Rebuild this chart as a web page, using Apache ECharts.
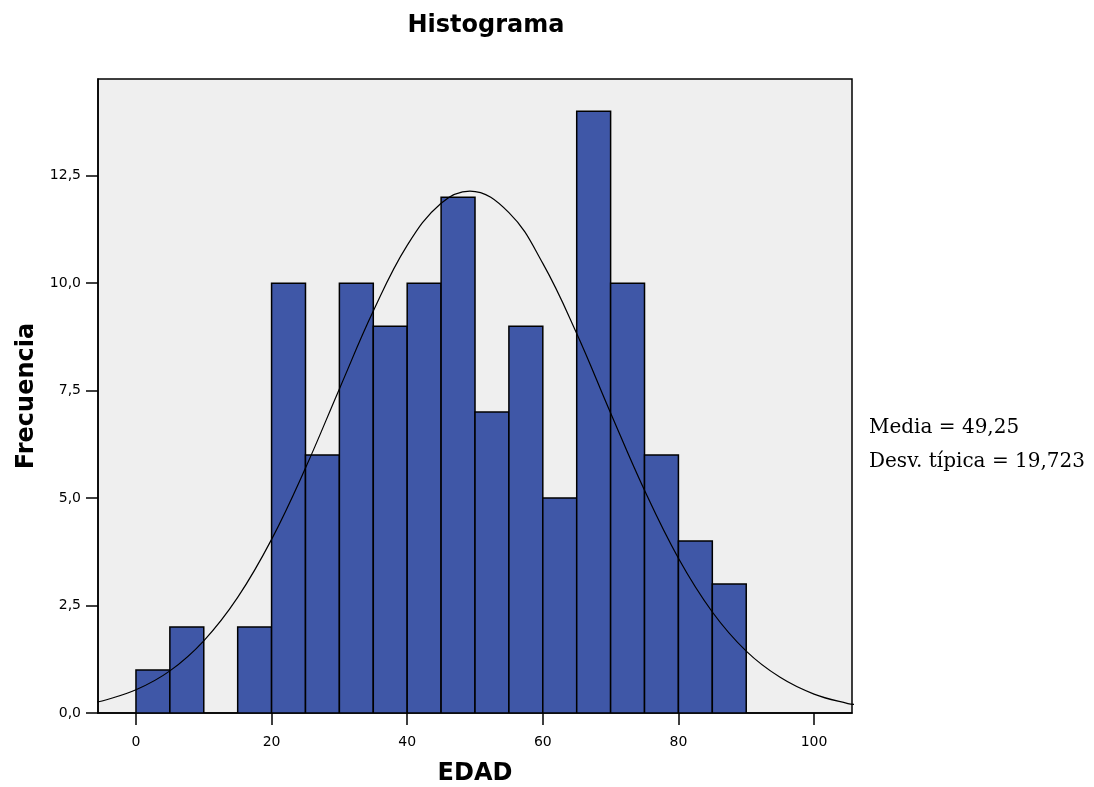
<!DOCTYPE html>
<html>
<head>
<meta charset="utf-8">
<script src="https://cdn.jsdelivr.net/npm/echarts@6/dist/echarts.min.js"></script>
<style>
  html, body { margin: 0; padding: 0; background: #fff; }
  #chart { width: 1094px; height: 787px; }
</style>
</head>
<body>
<div id="chart"></div>
<script>
// bins of width 5 (EDAD)
const binStarts = [0, 5, 10, 15, 20, 25, 30, 35, 40, 45, 50, 55, 60, 65, 70, 75, 80, 85];
const counts = [1, 2, 0, 2, 10, 6, 10, 9, 10, 12, 7, 9, 5, 14, 10, 6, 4, 3];
const binWidth = 5;

// normal curve
const curveX = [-6, -5, 0, 5, 10, 15, 20, 25, 30, 35, 40, 45, 49.25, 55, 60, 65, 70, 75, 80, 85, 90, 95, 100, 105, 106];
const curveY = [0.25, 0.28, 0.54, 0.98, 1.68, 2.69, 4.04, 5.70, 7.54, 9.35, 10.88, 11.86, 12.14, 11.64, 10.46, 8.83, 6.98, 5.18, 3.60, 2.35, 1.44, 0.83, 0.44, 0.22, 0.20];

const xTicks = [0, 20, 40, 60, 80, 100];
const yTicks = [0, 2.5, 5, 7.5, 10, 12.5];

const statLines = ["Media = 49,25", "Desv. típica = 19,723"];

const chart = echarts.init(document.getElementById("chart"));

const barData = binStarts.map((s, i) => [s, s + binWidth, counts[i]]);
const curveData = curveX.map((x, i) => [x, curveY[i]]);

const boldName = { fontFamily: "DejaVu Sans", fontSize: 24, fontWeight: "bold", color: "#000" };

const option = {
  animation: false,
  backgroundColor: "#ffffff",
  title: {
    text: "Histograma",
    left: 481,
    top: 9,
    textAlign: "center",
    textStyle: { fontFamily: "DejaVu Sans", fontSize: 24, fontWeight: "bold", color: "#000" },
  },
  grid: {
    left: 98,
    right: 242,
    top: 79,
    bottom: 74,
    outerBoundsMode: "none",
    containLabel: false,
    show: true,
    backgroundColor: "#efefef",
    borderColor: "#000",
    borderWidth: 1.5,
  },
  xAxis: {
    type: "value",
    min: -5.6,
    max: 105.6,
    name: "EDAD",
    nameLocation: "middle",
    nameGap: 49,
    nameTextStyle: boldName,
    splitLine: { show: false },
    axisLine: { show: true, onZero: false, lineStyle: { color: "#000", width: 1.5 } },
    axisTick: { show: true, length: 12, customValues: xTicks, lineStyle: { color: "#000", width: 1.5 } },
    axisLabel: {
      customValues: xTicks,
      margin: 22,
      fontFamily: "DejaVu Sans",
      fontSize: 14,
      color: "#000",
    },
  },
  yAxis: {
    type: "value",
    min: 0,
    max: 14.75,
    name: "Frecuencia",
    nameLocation: "middle",
    nameGap: 59,
    nameRotate: 90,
    nameTextStyle: boldName,
    splitLine: { show: false },
    axisLine: { show: true, onZero: false, lineStyle: { color: "#000", width: 1.5 } },
    axisTick: { show: true, length: 12, customValues: yTicks, lineStyle: { color: "#000", width: 1.5 } },
    axisLabel: {
      customValues: yTicks,
      margin: 17,
      fontFamily: "DejaVu Sans",
      fontSize: 14,
      color: "#000",
      formatter: (v) => v.toFixed(1).replace(".", ","),
    },
  },
  series: [
    {
      type: "custom",
      clip: true,
      data: barData,
      renderItem: (params, api) => {
        const p0 = api.coord([api.value(0), api.value(2)]);
        const p1 = api.coord([api.value(1), 0]);
        if (api.value(2) <= 0) return null;
        return {
          type: "rect",
          shape: { x: p0[0], y: p0[1], width: p1[0] - p0[0], height: p1[1] - p0[1] },
          style: { fill: "#3f57a7", stroke: "#000", lineWidth: 1.5 },
        };
      },
      z: 2,
    },
    {
      type: "line",
      data: curveData,
      smooth: 0.4,
      showSymbol: false,
      clip: true,
      lineStyle: { color: "#000", width: 1.2 },
      z: 3,
    },
  ],
  graphic: statLines.map((t, i) => ({
    type: "text",
    left: 869,
    top: 418 + i * 34,
    style: { text: t, fontFamily: "DejaVu Serif", fontSize: 20, fill: "#000" },
  })),
};

chart.setOption(option);
</script>
</body>
</html>
